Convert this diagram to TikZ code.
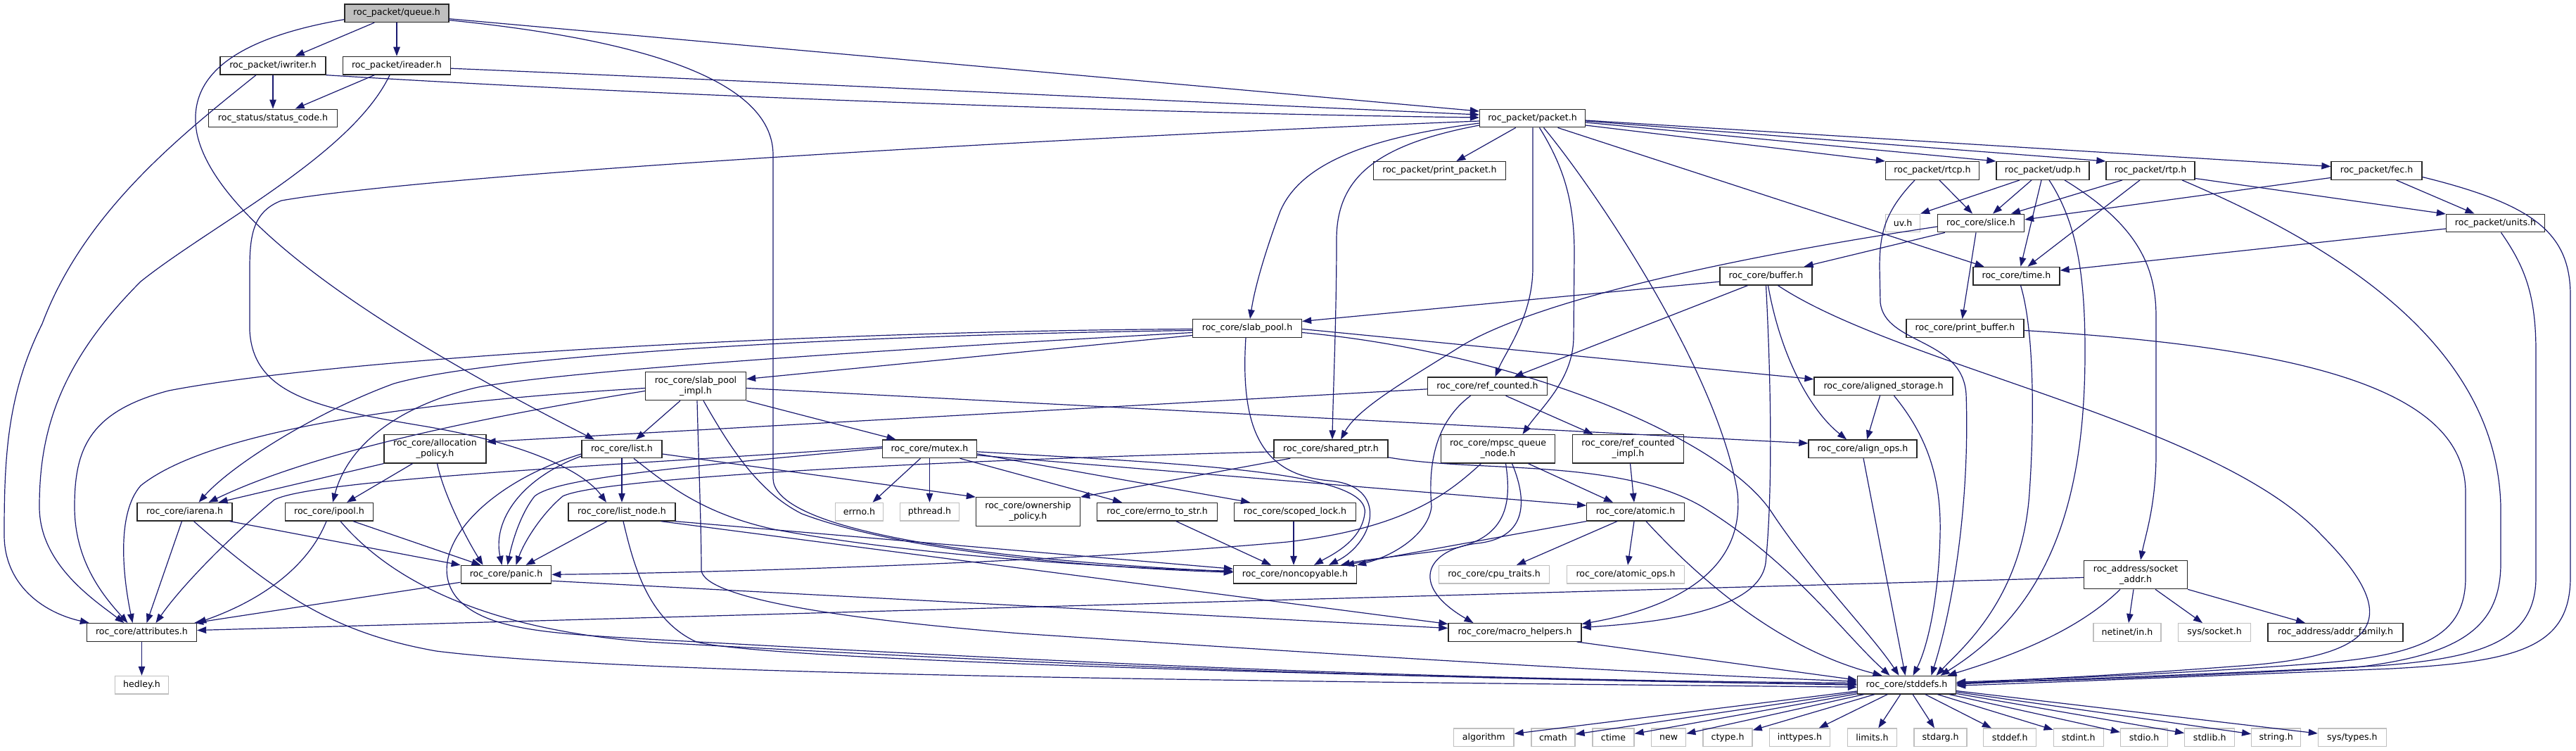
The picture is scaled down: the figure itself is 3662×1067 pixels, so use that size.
\documentclass[tikz,border=0pt]{standalone}
\usepackage{fontspec}
\newfontfamily\dfont{DejaVu Sans}
\usetikzlibrary{arrows.meta,calc}
\definecolor{eblue}{HTML}{191970}
\definecolor{gborder}{HTML}{BFBFBF}
\definecolor{qfill}{HTML}{BFBFBF}
\begin{document}
\begin{tikzpicture}[x=1pt,y=-1pt,
 nb/.style={draw=black!85, line width=1.3pt, fill=white, rectangle, inner sep=0pt, minimum height=25.6pt, font=\dfont\fontsize{12.6}{15}\selectfont, align=center},
 nb2/.style={nb, minimum height=40.4pt},
 ext/.style={nb, draw=gborder},
 edg/.style={draw=eblue, line width=1.2pt, -{Triangle[length=13pt,width=9.5pt]}}]
\useasboundingbox (0,0) rectangle (3662,1067);
\fill[white] (0,0) rectangle (3662,1067);
% nodes
\node[nb,fill=qfill,minimum width=148pt] (queue) at (564,18.7) {roc\_packet/queue.h};
\node[nb,minimum width=150pt] (iwriter) at (388,93.2) {roc\_packet/iwriter.h};
\node[nb,minimum width=153pt] (ireader) at (564,93.2) {roc\_packet/ireader.h};
\node[nb,minimum width=183pt] (status) at (388,168) {roc\_status/status\_code.h};
\node[nb,minimum width=150pt] (packet) at (2178.5,168) {roc\_packet/packet.h};
\node[nb,minimum width=188pt] (printpacket) at (2046.5,242.5) {roc\_packet/print\_packet.h};
\node[nb,minimum width=133pt] (rtcp) at (2747,242.5) {roc\_packet/rtcp.h};
\node[nb,minimum width=132pt] (udp) at (2904,242.5) {roc\_packet/udp.h};
\node[nb,minimum width=126pt] (rtp) at (3057,242.5) {roc\_packet/rtp.h};
\node[nb,minimum width=129pt] (fec) at (3378.5,242.5) {roc\_packet/fec.h};
\node[ext,minimum width=49pt] (uv) at (2705,317) {uv.h};
\node[nb,minimum width=123pt] (slice) at (2816,317) {roc\_core/slice.h};
\node[nb,minimum width=140pt] (units) at (3547.5,317) {roc\_packet/units.h};
\node[nb,minimum width=131pt] (buffer) at (2510.5,392.2) {roc\_core/buffer.h};
\node[nb,minimum width=123pt] (time) at (2866.5,392.2) {roc\_core/time.h};
\node[nb,minimum width=167pt] (printbuffer) at (2793.5,466.5) {roc\_core/print\_buffer.h};
\node[nb,minimum width=155pt] (slabpool) at (1773,466.5) {roc\_core/slab\_pool.h};
\node[nb2,minimum width=143pt] (slabimpl) at (989,548.5) {roc\_core/slab\_pool\\\_impl.h};
\node[nb,minimum width=170pt] (refcounted) at (2114.5,548.8) {roc\_core/ref\_counted.h};
\node[nb,minimum width=197pt] (alignedstorage) at (2677.5,548.8) {roc\_core/aligned\_storage.h};
\node[nb2,minimum width=145pt] (allocpolicy) at (618.5,637.8) {roc\_core/allocation\\\_policy.h};
\node[nb,minimum width=114pt] (list) at (884,638) {roc\_core/list.h};
\node[nb,minimum width=134pt] (mutex) at (1321.5,637.8) {roc\_core/mutex.h};
\node[nb,minimum width=162pt] (sharedptr) at (1892,637.8) {roc\_core/shared\_ptr.h};
\node[nb2,minimum width=162.5pt] (mpsc) at (2129.5,637.8) {roc\_core/mpsc\_queue\\\_node.h};
\node[nb2,minimum width=158.5pt] (refimpl) at (2314.5,637.8) {roc\_core/ref\_counted\\\_impl.h};
\node[nb,minimum width=154pt] (alignops) at (2648,637.8) {roc\_core/align\_ops.h};
\node[nb,minimum width=135pt] (iarena) at (262.5,727.2) {roc\_core/iarena.h};
\node[nb,minimum width=125pt] (ipool) at (468,727.2) {roc\_core/ipool.h};
\node[nb,minimum width=152pt] (listnode) at (884,727.2) {roc\_core/list\_node.h};
\node[ext,minimum width=68pt] (errno) at (1221.5,727.2) {errno.h};
\node[ext,minimum width=84pt] (pthread) at (1321.5,727.2) {pthread.h};
\node[nb2,minimum width=148pt] (ownership) at (1461.5,727) {roc\_core/ownership\\\_policy.h};
\node[nb,minimum width=171pt] (errnotostr) at (1645,727.2) {roc\_core/errno\_to\_str.h};
\node[nb,minimum width=173pt] (scopedlock) at (1841,727.2) {roc\_core/scoped\_lock.h};
\node[nb,minimum width=138.5pt] (atomic) at (2325,727.2) {roc\_core/atomic.h};
\node[nb,minimum width=175pt] (noncopyable) at (1841,816.3) {roc\_core/noncopyable.h};
\node[ext,minimum width=157pt] (cputraits) at (2124,816.3) {roc\_core/cpu\_traits.h};
\node[ext,minimum width=167pt] (atomicops) at (2311,816.3) {roc\_core/atomic\_ops.h};
\node[nb,minimum width=128.5pt] (panic) at (719.5,816.3) {roc\_core/panic.h};
\node[nb2,minimum width=147pt] (socketaddr) at (3036,816.5) {roc\_address/socket\\\_addr.h};
\node[nb,minimum width=156pt] (attributes) at (201.5,898.5) {roc\_core/attributes.h};
\node[nb,minimum width=189pt] (macrohelpers) at (2153.5,898.5) {roc\_core/macro\_helpers.h};
\node[ext,minimum width=96pt] (netinet) at (3024,898.5) {netinet/in.h};
\node[ext,minimum width=103pt] (syssocket) at (3148,898.5) {sys/socket.h};
\node[nb,minimum width=192pt] (addrfamily) at (3320,898.5) {roc\_address/addr\_family.h};
\node[ext,minimum width=76pt] (hedley) at (201.5,973.2) {hedley.h};
\node[nb,minimum width=140pt] (stddefs) at (2710.5,973.2) {roc\_core/stddefs.h};
\node[ext,minimum width=85.6pt] (lalgorithm) at (2109.3,1047.8) {algorithm};
\node[ext,minimum width=62pt] (lcmath) at (2207.9,1047.8) {cmath};
\node[ext,minimum width=59pt] (lctime) at (2293.5,1047.8) {ctime};
\node[ext,minimum width=49pt] (lnew) at (2372.2,1047.8) {new};
\node[ext,minimum width=70pt] (lctype) at (2456.1,1047.8) {ctype.h};
\node[ext,minimum width=86pt] (linttypes) at (2558.4,1047.8) {inttypes.h};
\node[ext,minimum width=70pt] (llimits) at (2661.4,1047.8) {limits.h};
\node[ext,minimum width=75pt] (lstdarg) at (2758.6,1047.8) {stdarg.h};
\node[ext,minimum width=75pt] (lstddef) at (2857.3,1047.8) {stddef.h};
\node[ext,minimum width=71pt] (lstdint) at (2954.7,1047.8) {stdint.h};
\node[ext,minimum width=67pt] (lstdio) at (3048,1047.8) {stdio.h};
\node[ext,minimum width=71pt] (lstdlib) at (3141.2,1047.8) {stdlib.h};
\node[ext,minimum width=70pt] (lstring) at (3235.7,1047.8) {string.h};
\node[ext,minimum width=97pt] (lsystypes) at (3343.9,1047.8) {sys/types.h};
% queue
\draw[edg] (queue) -- (iwriter);
\draw[edg] (queue) -- (ireader);
\draw[edg] ($(queue.east)+(0,8)$) -- ($(packet.west)+(0,-10)$);
\draw[edg] ($(queue.west)+(0,9)$) .. controls (330,55) and (265,110) .. (280,190) .. controls (310,330) and (600,500) .. ($(list.north)+(-39,0)$);
\draw[edg] ($(queue.east)+(0,10)$) .. controls (900,55) and (1099,110) .. (1099,220) -- (1099,680) .. controls (1100,740) and (1300,790) .. ($(noncopyable.west)+(0,-4)$);
% iwriter / ireader
\draw[edg] (iwriter) -- (status);
\draw[edg] (ireader) -- (status);
\draw[edg] (iwriter.south east) .. controls (1000,140) and (1700,162) .. ($(packet.west)+(0,-1)$);
\draw[edg] ($(ireader.east)+(0,4)$) .. controls (1000,112) and (1700,145) .. ($(packet.west)+(0,-5)$);
\draw[edg] ($(iwriter.south)+(-24,0)$) .. controls (260,190) and (120,300) .. (60,460) .. controls (10,560) and (6,650) .. (6,760) .. controls (6,830) and (60,870) .. ($(attributes.north west)+(4,0)$);
\draw[edg] ($(ireader.south)+(-10,0)$) .. controls (500,220) and (300,320) .. (200,400) .. controls (80,520) and (56,620) .. (56,720) .. controls (56,800) and (130,850) .. ($(attributes.north)+(-25,0)$);
% packet
\draw[edg] (packet) -- (printpacket);
\draw[edg] ($(packet.east)+(0,10)$) -- (rtcp.north west);
\draw[edg] ($(packet.east)+(0,6)$) -- (udp.north west);
\draw[edg] ($(packet.east)+(0,4)$) -- (rtp.north west);
\draw[edg] ($(packet.east)+(0,3)$) -- ($(fec.west)+(0,-6)$);
\draw[edg] ($(packet.west)+(0,7)$) .. controls (1950,195) and (1850,230) .. (1820,300) .. controls (1805,340) and (1785,400) .. ($(slabpool.north)+(4,0)$);
\draw[edg] ($(packet.west)+(0,10)$) .. controls (1960,205) and (1900,250) .. (1900,340) .. controls (1900,450) and (1895,560) .. ($(sharedptr.north)+(2,0)$);
\draw[edg] ($(packet.south)+(0.5,0)$) -- (2179,380) .. controls (2179,450) and (2140,500) .. ($(refcounted.north)+(11,0)$);
\draw[edg] ($(packet.south)+(10,0)$) .. controls (2225,240) and (2238,290) .. (2238,360) -- (2237,480) .. controls (2236,540) and (2190,580) .. ($(mpsc.north)+(35,0)$);
\draw[edg] ($(packet.south)+(16,0)$) .. controls (2260,260) and (2440,520) .. (2470,700) .. controls (2480,800) and (2400,860) .. ($(macrohelpers.east)+(0,-12)$);
\draw[edg] ($(packet.south)+(36,0)$) -- ($(time.north)+(-46,0)$);
\draw[edg] ($(packet.west)+(0,4)$) .. controls (1400,200) and (600,250) .. (400,285) .. controls (362,300) and (355,330) .. (355,380) -- (355,470) .. controls (360,560) and (450,580) .. (600,605) .. controls (750,630) and (830,670) .. ($(listnode.north)+(-22,0)$);
% rtcp, udp, rtp, fec, units
\draw[edg] ($(rtcp.south)+(10,0)$) -- ($(slice.north)+(-12,0)$);
\draw[edg] ($(rtcp.south)+(-25,0)$) .. controls (2680,300) and (2672,330) .. (2672,380) -- (2673,430) .. controls (2680,490) and (2790,480) .. (2795,560) .. controls (2800,700) and (2780,850) .. ($(stddefs.north)+(35,0)$);
\draw[edg] ($(udp.south)+(-33,0)$) -- (uv.north east);
\draw[edg] ($(udp.south)+(-16,0)$) -- ($(slice.north)+(17,0)$);
\draw[edg] ($(udp.south)+(-2,0)$) -- ($(time.north)+(6,0)$);
\draw[edg] ($(udp.south)+(9,0)$) .. controls (2955,320) and (2964,400) .. (2964,500) .. controls (2964,700) and (2920,860) .. ($(stddefs.north)+(48,0)$);
\draw[edg] ($(udp.south)+(31,0)$) .. controls (3040,320) and (3065,380) .. (3065,450) -- (3065,650) .. controls (3064,720) and (3050,760) .. ($(socketaddr.north)+(7,0)$);
\draw[edg] ($(rtp.south)+(-40,0)$) -- ($(slice.north)+(43,0)$);
\draw[edg] ($(rtp.south)+(-15,0)$) -- ($(time.north)+(16,0)$);
\draw[edg] ($(rtp.east)+(0,11)$) -- ($(units.west)+(0,-13)$);
\draw[edg] ($(rtp.south)+(45,0)$) .. controls (3300,340) and (3550,480) .. (3555,720) -- (3555,800) .. controls (3555,890) and (3500,930) .. (3350,948) .. controls (3100,962) and (2900,968) .. ($(stddefs.east)+(0,-3)$);
\draw[edg] ($(fec.west)+(0,10)$) -- ($(slice.east)+(0,-5)$);
\draw[edg] ($(fec.south)+(28,0)$) -- ($(units.north)+(-30,0)$);
\draw[edg] ($(fec.east)+(0,9)$) .. controls (3600,290) and (3654,330) .. (3654,420) -- (3654,820) .. controls (3654,920) and (3580,940) .. (3400,950) .. controls (3100,962) and (2900,970) .. ($(stddefs.east)+(0,1)$);
\draw[edg] ($(units.west)+(0,8)$) -- ($(time.east)+(0,-8)$);
\draw[edg] ($(units.south)+(8,0)$) .. controls (3590,380) and (3605,420) .. (3605,500) -- (3605,820) .. controls (3605,910) and (3530,935) .. (3380,946) .. controls (3100,960) and (2900,966) .. ($(stddefs.east)+(0,-1)$);
% slice, buffer, time, print_buffer
\draw[edg] ($(slice.south west)+(11,0)$) -- ($(buffer.north east)+(-12,0)$);
\draw[edg] ($(slice.west)+(0,5)$) .. controls (2500,360) and (2200,420) .. (2080,490) .. controls (2000,540) and (1930,580) .. ($(sharedptr.north)+(14,0)$);
\draw[edg] ($(slice.south)+(-7,0)$) -- ($(printbuffer.north)+(-4,0)$);
\draw[edg] ($(buffer.west)+(0,8)$) -- ($(slabpool.east)+(0,-10)$);
\draw[edg] ($(buffer.south)+(-26,0)$) -- ($(refcounted.north)+(38,0)$);
\draw[edg] (buffer.south) .. controls (2518,550) and (2520,700) .. (2510,800) .. controls (2500,870) and (2350,885) .. ($(macrohelpers.east)+(0,-7)$);
\draw[edg] ($(buffer.south)+(3,0)$) .. controls (2530,500) and (2570,580) .. ($(alignops.north)+(-23,0)$);
\draw[edg] ($(buffer.south)+(17,0)$) .. controls (2700,520) and (3150,600) .. (3300,760) .. controls (3420,880) and (3380,930) .. (3200,945) .. controls (3000,960) and (2900,965) .. ($(stddefs.east)+(0,-4)$);
\draw[edg] ($(time.south)+(6,0)$) .. controls (2892,470) and (2892,600) .. (2885,700) .. controls (2875,850) and (2790,920) .. ($(stddefs.north)+(42,0)$);
\draw[edg] ($(printbuffer.east)+(0,3)$) .. controls (3300,495) and (3505,560) .. (3505,700) -- (3505,820) .. controls (3505,900) and (3450,930) .. (3300,942) .. controls (3100,958) and (2900,964) .. ($(stddefs.east)+(0,-2)$);
% slab_pool
\draw[edg] ($(slabpool.west)+(0,10)$) -- ($(slabimpl.east)+(0,-10)$);
\draw[edg] ($(slabpool.west)+(0,1)$) .. controls (1200,470) and (500,505) .. (240,555) .. controls (125,585) and (106,640) .. (106,720) .. controls (106,800) and (150,850) .. ($(attributes.north)+(-20,0)$);
\draw[edg] ($(slabpool.west)+(0,3)$) .. controls (1200,476) and (700,505) .. (560,545) .. controls (450,585) and (330,660) .. ($(iarena.north)+(20,0)$);
\draw[edg] ($(slabpool.west)+(0,6)$) .. controls (1200,500) and (800,528) .. (680,550) .. controls (570,575) and (495,630) .. ($(ipool.north)+(5,0)$);
\draw[edg] ($(slabpool.east)+(0,1)$) -- ($(alignedstorage.west)+(0,-10)$);
\draw[edg] ($(slabpool.south)+(-2,0)$) .. controls (1762,620) and (1800,675) .. (1890,683) .. controls (1975,690) and (1955,770) .. ($(noncopyable.north)+(48,0)$);
\draw[edg] ($(slabpool.east)+(0,6)$) .. controls (2150,500) and (2450,620) .. (2520,730) .. controls (2580,820) and (2660,900) .. ($(stddefs.north)+(-11,0)$);
% slab_pool_impl
\draw[edg] ($(slabimpl.south)+(-22,0)$) -- ($(list.north)+(20,0)$);
\draw[edg] (slabimpl.south east) -- ($(mutex.north)+(-48,0)$);
\draw[edg] ($(slabimpl.east)+(0,3)$) -- ($(alignops.west)+(0,-8)$);
\draw[edg] ($(slabimpl.west)+(0,3)$) .. controls (600,570) and (300,610) .. (200,690) .. controls (165,730) and (175,820) .. ($(attributes.north)+(-13,0)$);
\draw[edg] ($(slabimpl.west)+(0,7)$) .. controls (700,590) and (450,640) .. ($(iarena.north)+(34,0)$);
\draw[edg] ($(slabimpl.south)+(2,0)$) .. controls (993,650) and (997,750) .. (997,810) .. controls (1000,850) and (1200,880) .. (1450,900) .. controls (1900,930) and (2300,955) .. ($(stddefs.west)+(0,-5)$);
\draw[edg] ($(slabimpl.south)+(11,0)$) .. controls (1040,640) and (1080,700) .. (1140,730) .. controls (1300,790) and (1600,808) .. ($(noncopyable.west)+(0,-3)$);
% ref_counted etc
\draw[edg] ($(refcounted.west)+(0,4)$) -- ($(allocpolicy.east)+(0,-10)$);
\draw[edg] ($(refcounted.south)+(26,0)$) -- ($(refimpl.north)+(-50,0)$);
\draw[edg] ($(refcounted.south)+(-24,0)$) .. controls (2040,600) and (2030,660) .. (2035,720) .. controls (2030,760) and (1980,790) .. (noncopyable.north east);
\draw[edg] ($(refimpl.south)+(3,0)$) -- ($(atomic.north)+(-2,0)$);
\draw[edg] ($(alignedstorage.south)+(-5,0)$) -- ($(alignops.north)+(6,0)$);
\draw[edg] ($(alignedstorage.south)+(15,0)$) .. controls (2740,620) and (2760,680) .. (2758,760) .. controls (2756,850) and (2740,920) .. ($(stddefs.north)+(9,0)$);
\draw[edg] ($(alignops.south)+(1,0)$) -- ($(stddefs.north)+(-2,0)$);
% allocation_policy
\draw[edg] (allocpolicy.south west) -- ($(iarena.north)+(48,0)$);
\draw[edg] ($(allocpolicy.south)+(-32,0)$) -- ($(ipool.north)+(25,0)$);
\draw[edg] ($(allocpolicy.south)+(3,0)$) .. controls (630,700) and (660,760) .. ($(panic.north)+(-33,0)$);
% list
\draw[edg] (list) -- (listnode);
\draw[edg] ($(list.east)+(0,7)$) -- (ownership.north west);
\draw[edg] ($(list.west)+(0,10)$) .. controls (740,680) and (700,740) .. ($(panic.north)+(-6,0)$);
\draw[edg] ($(list.west)+(0,7)$) .. controls (680,690) and (600,790) .. (650,850) .. controls (690,895) and (780,900) .. (920,908) .. controls (1500,940) and (2000,966) .. ($(stddefs.west)+(0,-3)$);
\draw[edg] ($(list.south)+(17,0)$) .. controls (950,690) and (1000,730) .. (1100,752) .. controls (1300,790) and (1600,808) .. ($(noncopyable.west)+(0,-5)$);
% mutex
\draw[edg] ($(mutex.south)+(-13,0)$) -- ($(errno.north)+(19,0)$);
\draw[edg] (mutex.south) -- (pthread.north);
\draw[edg] ($(mutex.south)+(43,0)$) -- ($(errnotostr.north)+(-50,0)$);
\draw[edg] ($(mutex.east)+(0,7)$) -- ($(scopedlock.north)+(-64,0)$);
\draw[edg] ($(mutex.east)+(0,9)$) -- ($(atomic.west)+(0,-9)$);
\draw[edg] ($(mutex.east)+(0,4)$) .. controls (1700,660) and (1950,670) .. (1940,730) .. controls (1935,770) and (1890,790) .. ($(noncopyable.north)+(27,0)$);
\draw[edg] ($(mutex.west)+(0,-3)$) .. controls (900,660) and (450,680) .. (390,710) .. controls (330,760) and (260,830) .. ($(attributes.north)+(20,0)$);
\draw[edg] ($(mutex.west)+(0,-1)$) .. controls (950,665) and (790,680) .. (760,705) .. controls (740,730) and (728,770) .. ($(panic.north)+(2,0)$);
% shared_ptr
\draw[edg] ($(sharedptr.west)+(0,4)$) .. controls (1300,655) and (850,680) .. (800,705) .. controls (770,730) and (745,770) .. ($(panic.north)+(14,0)$);
\draw[edg] ($(sharedptr.south west)+(24,0)$) -- (ownership.north east);
\draw[edg] ($(sharedptr.east)+(0,12)$) .. controls (2100,672) and (2300,650) .. (2420,720) .. controls (2550,800) and (2620,900) .. ($(stddefs.north)+(-24,0)$);
% mpsc
\draw[edg] ($(mpsc.south)+(43,0)$) -- ($(atomic.north)+(-32,0)$);
\draw[edg] ($(mpsc.south)+(11,0)$) .. controls (2150,720) and (2140,770) .. (2050,782) .. controls (1990,790) and (1940,795) .. ($(noncopyable.north)+(65,0)$);
\draw[edg] ($(mpsc.south)+(20,0)$) .. controls (2175,720) and (2165,765) .. (2100,772) .. controls (2030,780) and (2000,830) .. ($(macrohelpers.north)+(-59,0)$);
\draw[edg] ($(mpsc.south)+(-24,0)$) .. controls (2060,700) and (2000,750) .. (1830,770) .. controls (1500,800) and (1000,814) .. (panic.east);
% iarena, ipool, list_node
\draw[edg] ($(iarena.south)+(-4,0)$) -- ($(attributes.north)+(7,0)$);
\draw[edg] ($(iarena.south east)+(-4,0)$) -- (panic.north west);
\draw[edg] ($(iarena.south)+(13,0)$) .. controls (400,850) and (480,900) .. (620,925) .. controls (900,960) and (1800,968) .. ($(stddefs.west)+(0,3)$);
\draw[edg] ($(ipool.south)+(-4,0)$) .. controls (440,800) and (380,850) .. (attributes.north east);
\draw[edg] ($(ipool.south east)+(-29,0)$) -- ($(panic.north)+(-36,0)$);
\draw[edg] ($(ipool.south)+(16,0)$) .. controls (560,830) and (700,895) .. (920,912) .. controls (1500,945) and (2000,965) .. ($(stddefs.west)+(0,-1)$);
\draw[edg] ($(listnode.south)+(-21,0)$) -- ($(panic.north)+(28,0)$);
\draw[edg] ($(listnode.south east)+(-1,0)$) -- ($(noncopyable.west)+(0,-8)$);
\draw[edg] ($(listnode.south east)+(-21,0)$) -- ($(macrohelpers.west)+(0,-12)$);
\draw[edg] ($(listnode.south)+(2,0)$) .. controls (900,800) and (920,880) .. (990,912) .. controls (1100,940) and (2000,962) .. (stddefs.west);
% panic and others
\draw[edg] ($(panic.west)+(0,11)$) -- ($(attributes.north east)+(-4,0)$);
\draw[edg] ($(panic.east)+(0,9)$) -- ($(macrohelpers.west)+(0,-6)$);
\draw[edg] ($(errnotostr.south)+(27,0)$) -- ($(noncopyable.north west)+(54,0)$);
\draw[edg] ($(scopedlock.south)+(-2,0)$) -- ($(noncopyable.north)+(-2,0)$);
\draw[edg] (atomic.south west) -- ($(noncopyable.north)+(71,0)$);
\draw[edg] ($(atomic.south)+(-26,0)$) -- ($(cputraits.north)+(32,0)$);
\draw[edg] ($(atomic.south)+(-2,0)$) -- ($(atomicops.north)+(3,0)$);
\draw[edg] ($(atomic.south)+(15,0)$) .. controls (2450,860) and (2560,930) .. ($(stddefs.north)+(-35,0)$);
\draw[edg] ($(macrohelpers.south east)+(-7,0)$) -- ($(stddefs.west)+(0,-7)$);
\draw[edg] (attributes) -- (hedley);
% socket_addr
\draw[edg] ($(socketaddr.west)+(0,4)$) -- ($(attributes.east)+(0,-3)$);
\draw[edg] ($(socketaddr.south)+(-22,0)$) .. controls (2950,900) and (2850,935) .. ($(stddefs.north)+(58,0)$);
\draw[edg] ($(socketaddr.south)+(-3,0)$) -- ($(netinet.north)+(2,0)$);
\draw[edg] ($(socketaddr.south)+(28,0)$) -- ($(syssocket.north)+(-17,0)$);
\draw[edg] (socketaddr.south east) -- ($(addrfamily.north)+(-43,0)$);
% stddefs leaves
\foreach \lf in {lalgorithm,lcmath,lctime,lnew,lctype,linttypes,llimits,lstdarg,lstddef,lstdint,lstdio,lstdlib,lstring,lsystypes}
  \draw[edg] (stddefs) -- (\lf);
\end{tikzpicture}
\end{document}
